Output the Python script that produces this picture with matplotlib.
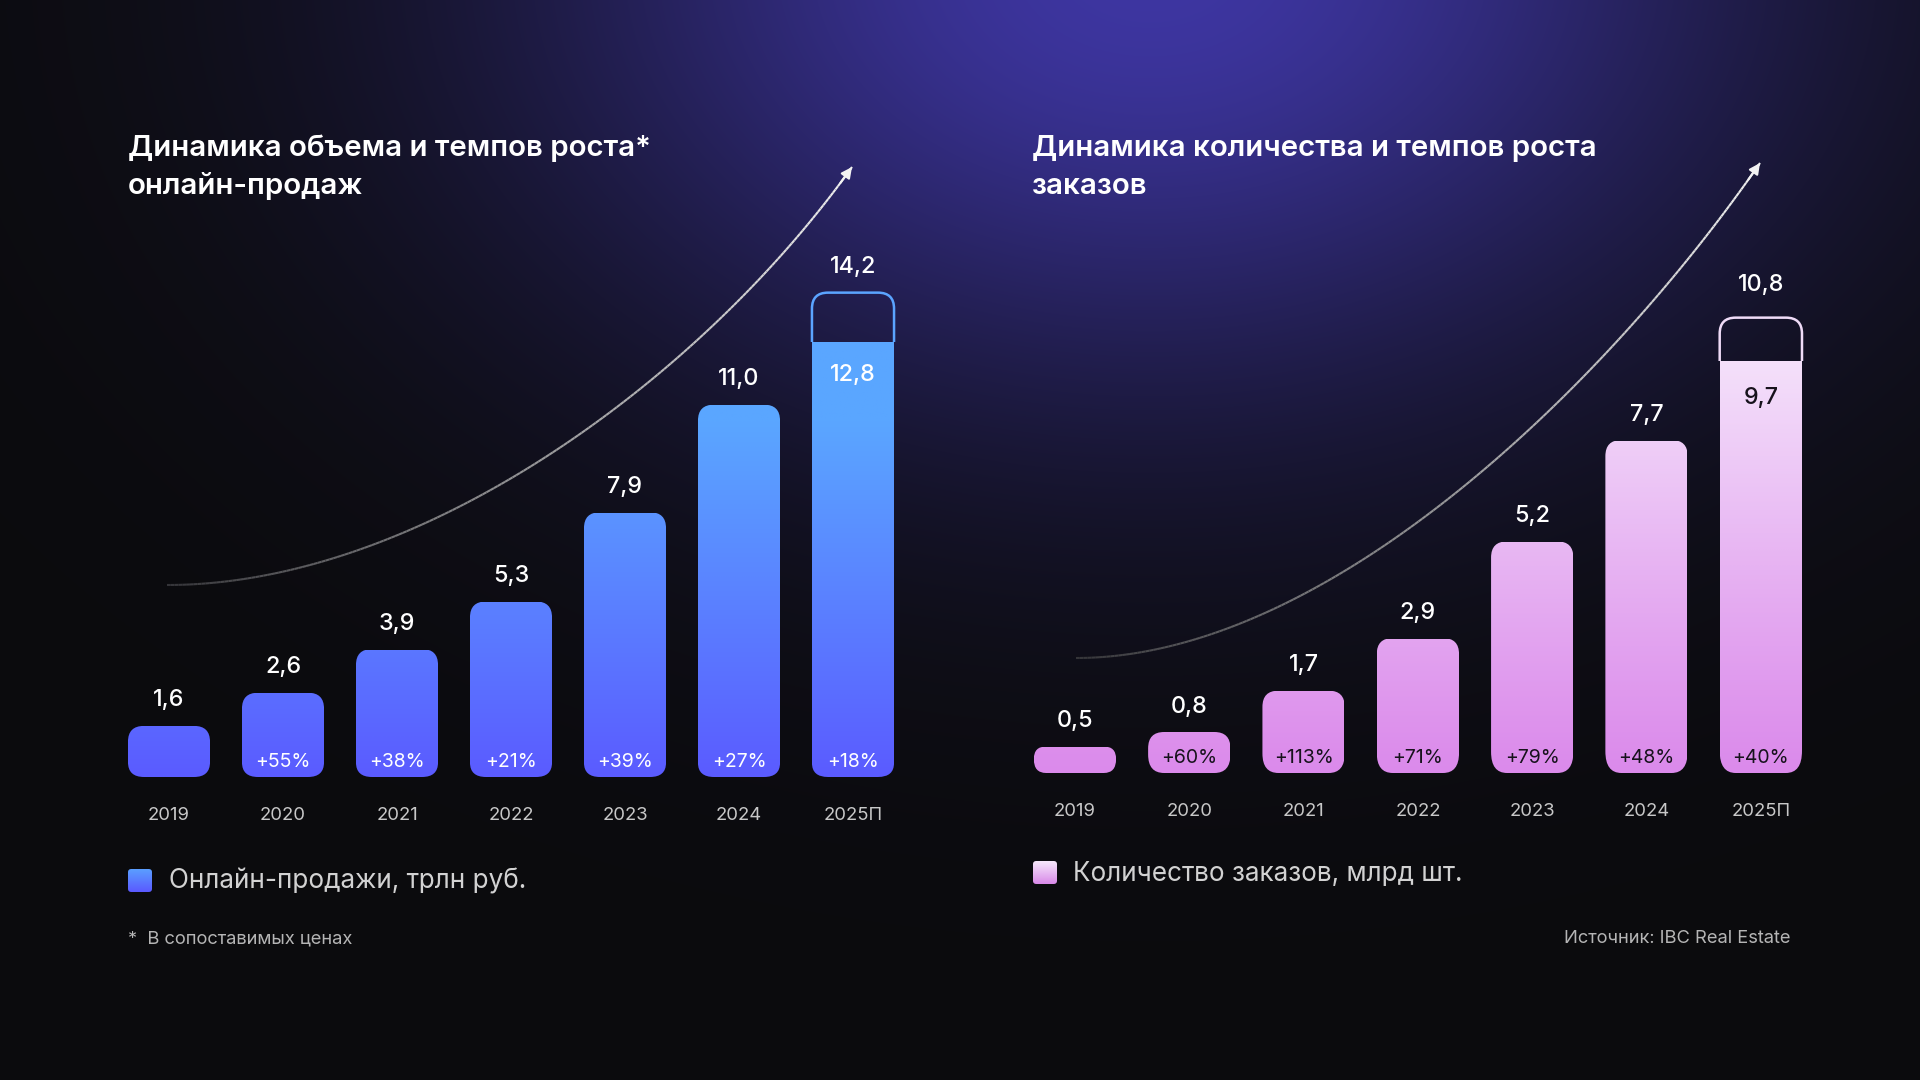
import numpy as np
import matplotlib
matplotlib.use("Agg")
import matplotlib.pyplot as plt
from matplotlib.patches import FancyBboxPatch, Rectangle
from matplotlib.collections import LineCollection
from matplotlib.colors import to_rgb

plt.rcParams['font.family'] = ['Inter', 'DejaVu Sans']

# data
years = ['2019', '2020', '2021', '2022', '2023', '2024', '2025П']
sales = [1.6, 2.6, 3.9, 5.3, 7.9, 11.0, 12.8]
sales_total_2025 = 14.2
sales_growth = ['', '+55%', '+38%', '+21%', '+39%', '+27%', '+18%']
orders = [0.5, 0.8, 1.7, 2.9, 5.2, 7.7, 9.7]
orders_total_2025 = 10.8
orders_growth = ['', '+60%', '+113%', '+71%', '+79%', '+48%', '+40%']

W, H = 1920, 1080
fig = plt.figure(figsize=(19.2, 10.8), dpi=100)
fig.patch.set_facecolor('#0b0b0d')


def fx(x):
    return x / W


def fy(y):
    return 1 - y / H


# background with purple glow at top (pixel coordinates)
bg = fig.add_axes([0, 0, 1, 1])
bg.axis('off')
yy, xx = np.mgrid[0:H, 0:W]
f = np.exp(-0.5 * (((xx - 1150) / 440.0) ** 2 + ((yy + 40) / 310.0) ** 2))
base = np.array(to_rgb('#0b0b0d'))
glow = np.array(to_rgb('#3e36a2'))
img = base[None, None, :] * (1 - f[..., None]) + glow[None, None, :] * f[..., None]
bg.imshow(img, extent=[0, W, H, 0], aspect='auto', interpolation='bilinear')
bg.set_xlim(0, W)
bg.set_ylim(H, 0)


def fmt(v):
    return f"{v:.1f}".replace('.', ',')


def bezier(p0, p1, p2, p3, n=200):
    t = np.linspace(0, 1, n)[:, None]
    p0, p1, p2, p3 = map(np.array, (p0, p1, p2, p3))
    return ((1 - t) ** 3) * p0 + 3 * ((1 - t) ** 2) * t * p1 + 3 * (1 - t) * t ** 2 * p2 + t ** 3 * p3


def growth_arrow(curve):
    # decorative trend arrow, drawn on the pixel-space background axes
    pts = bezier(*curve)
    segs = np.stack([pts[:-1], pts[1:]], axis=1)
    tt = np.linspace(0, 1, len(segs)) ** 0.9
    c0, c1 = np.array(to_rgb('#343438')), np.array(to_rgb('#f2f2f2'))
    lc = LineCollection(segs, colors=c0 + (c1 - c0) * tt[:, None], linewidths=1.5)
    bg.add_collection(lc)
    bg.annotate('', xy=pts[-1], xytext=pts[-6],
                arrowprops=dict(arrowstyle='-|>', color='#f2f2f2', lw=1.5,
                                mutation_scale=16, shrinkA=0, shrinkB=0))


def draw_chart(left, base_y, width, a, p, ymax, values, total, growth, c_bot, c_top,
               grad_max, edge, in_col, inner_off, total_off):
    height = a * ymax ** p
    ax = fig.add_axes([fx(left), fy(base_y), width / W, height / H])
    ax.axis('off')
    ax.set_yscale('function', functions=(lambda v: np.sign(v) * np.abs(v) ** p,
                                         lambda u: np.sign(u) * np.abs(u) ** (1 / p)))
    n = len(values)
    ax.set_xlim(-0.5, n - 0.5)
    ax.set_ylim(0, ymax)
    ppx = width / n
    w = 0.72
    r = 16 / ppx
    cb, ct = np.array(to_rgb(c_bot)), np.array(to_rgb(c_top))

    for i, v in enumerate(values):
        last = i == n - 1
        top = total if last else v
        ppy = a * p * top ** (p - 1)
        asp = ppx / ppy
        rr = min(r, w / 2, top / asp / 2)
        shape = FancyBboxPatch((i - w / 2, 0), w, top,
                               boxstyle=f"round,pad=0,rounding_size={rr}",
                               mutation_aspect=asp, fc='none', ec='none')
        ax.add_patch(shape)
        ys = np.linspace(0, v, 300)
        t = np.clip(ys / grad_max, 0, 1)[:, None]
        cols = (cb + (ct - cb) * t)[:, None, :]
        im = ax.imshow(cols, extent=[i - w / 2, i + w / 2, 0, v], origin='lower',
                       aspect='auto', interpolation='bilinear', zorder=2)
        im.set_clip_path(shape)
        if last:
            outline = FancyBboxPatch((i - w / 2, 0), w, top,
                                     boxstyle=f"round,pad=0,rounding_size={rr}",
                                     mutation_aspect=asp, fc='none', ec=edge,
                                     lw=1.8, zorder=3)
            ax.add_patch(outline)
            outline.set_clip_path(Rectangle((i - w, v), 2 * w, ymax,
                                            transform=ax.transData))
            ax.annotate(fmt(total), (i, top), xytext=(0, total_off), textcoords='offset points',
                        ha='center', va='baseline', color='white', fontsize=16.8,
                        fontweight='medium', zorder=4, annotation_clip=False)
            ax.annotate(fmt(v), (i, v), xytext=(0, inner_off), textcoords='offset points',
                        ha='center', va='baseline', color=in_col, fontsize=16.8,
                        fontweight='medium', zorder=4)
        else:
            ax.annotate(fmt(v), (i, v), xytext=(0, 14), textcoords='offset points',
                        ha='center', va='baseline', color='white', fontsize=16.8,
                        fontweight='medium', zorder=4, annotation_clip=False)
        if growth[i]:
            ax.annotate(growth[i], (i, 0), xytext=(0, 7.5), textcoords='offset points',
                        ha='center', va='baseline', color=in_col, fontsize=14,
                        zorder=4)
        ax.annotate(years[i], (i, 0), xytext=(0, -31), textcoords='offset points',
                    ha='center', va='baseline', color='#c8c8c8', fontsize=13.3,
                    annotation_clip=False)
    return ax


# left chart: online sales
draw_chart(112, 777, 798, 31.5, 1.03, 16, sales, sales_total_2025, sales_growth,
           '#5b5bff', '#5aa6ff', 10.5, '#5ba4ff', 'white', -28, 14)
growth_arrow([(167, 585), (420, 585), (700, 380), (852, 167)])

# right chart: number of orders
draw_chart(1017.8, 773, 800.2, 50.4, 0.925, 13, orders, orders_total_2025, orders_growth,
           '#db8aeb', '#f5e3fb', 10.0, '#efdbf7', '#17121c', -31, 19)
growth_arrow([(1076, 658), (1330, 658), (1610, 380), (1760, 163)])

# titles
for x0, lines in ((128, ['Динамика объема и темпов роста*', 'онлайн-продаж']),
                  (1032, ['Динамика количества и темпов роста', 'заказов'])):
    for k, line in enumerate(lines):
        fig.text(fx(x0), fy(156.5 + 38 * k), line, color='white', fontsize=21.2,
                 fontweight='semibold', va='baseline', ha='left')


# legends
def swatch(x0, y0, c_top, c_bot):
    sax = fig.add_axes([fx(x0), fy(y0 + 23), 24 / W, 23 / H])
    sax.axis('off')
    sax.set_xlim(0, 1)
    sax.set_ylim(0, 1)
    cb, ct = np.array(to_rgb(c_bot)), np.array(to_rgb(c_top))
    t = np.linspace(0, 1, 50)[:, None]
    g = (cb + (ct - cb) * t)[:, None, :]
    p = FancyBboxPatch((0, 0), 1, 1, boxstyle="round,pad=0,rounding_size=0.14",
                       fc='none', ec='none', transform=sax.transAxes)
    sax.add_patch(p)
    im = sax.imshow(g, extent=[0, 1, 0, 1], origin='lower', aspect='auto')
    im.set_clip_path(p)


swatch(128, 869, '#5b9eff', '#5a5aff')
fig.text(fx(169), fy(888), 'Онлайн-продажи, трлн руб.', color='#d2d2d2',
         fontsize=18.8, va='baseline')
swatch(1033, 861, '#f6e8fc', '#d98ae8')
fig.text(fx(1073), fy(881), 'Количество заказов, млрд шт.', color='#d2d2d2',
         fontsize=18.8, va='baseline')

# footnotes
fig.text(fx(128), fy(943), '*  В сопоставимых ценах', color='#b5b5b5',
         fontsize=13.2, va='baseline')
fig.text(fx(1791), fy(943), 'Источник: IBC Real Estate', color='#b5b5b5',
         fontsize=13.2, va='baseline', ha='right')

fig.savefig('out.png', dpi=100, facecolor=fig.get_facecolor())
